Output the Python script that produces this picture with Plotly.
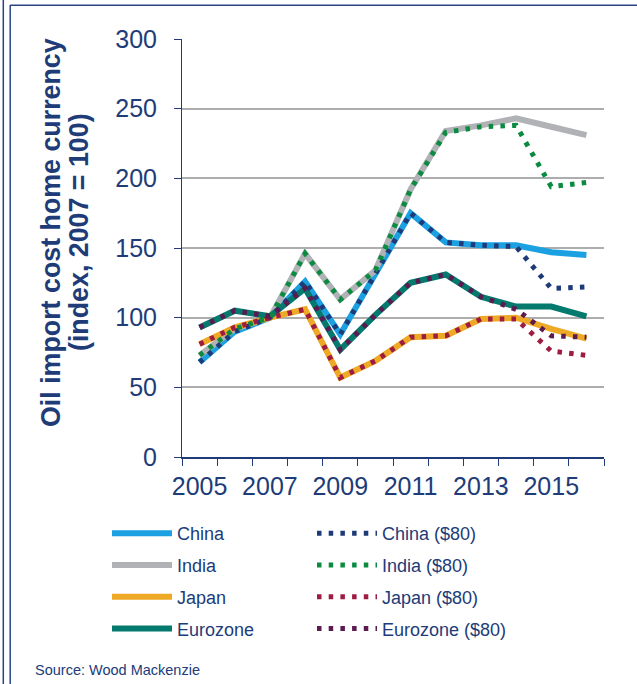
import plotly.graph_objects as go

years = [2005, 2006, 2007, 2008, 2009, 2010, 2011, 2012, 2013, 2014, 2015, 2016]
label_years = [2005, 2007, 2009, 2011, 2013, 2015]

china = [68, 90, 100, 126, 88, 132, 175, 154, 152, 152, 147, 145]
india = [73, 92, 100, 146, 113, 134, 192, 234, 238, 243, 237, 231]
japan = [81, 93, 100, 106, 57, 69, 86, 87, 99, 100, 92, 85]
eurozone = [93, 105, 101, 121, 77, 102, 125, 131, 115, 108, 108, 101]

china_80 = [68, 90, 100, 126, 88, 132, 175, 154, 152, 151, 121, 122]
india_80 = [73, 92, 100, 146, 113, 134, 192, 233, 237, 238, 194, 197]
japan_80 = [81, 93, 100, 106, 57, 69, 86, 87, 99, 99, 76, 73]
eurozone_80 = [93, 105, 101, 121, 77, 102, 125, 131, 115, 106, 87, 86]

NAVY = "#203C78"
FONT = "Liberation Sans, Arial, sans-serif"

solid = [
    ("China", china, "#1BA1E2"),
    ("India", india, "#B1B2B5"),
    ("Japan", japan, "#EEAA26"),
    ("Eurozone", eurozone, "#037A6D"),
]
dotted = [
    ("China ($80)", china_80, "#1F3A78"),
    ("India ($80)", india_80, "#0A8B40"),
    ("Japan ($80)", japan_80, "#9E1B42"),
    ("Eurozone ($80)", eurozone_80, "#5B1A50"),
]

fig = go.Figure()
for i, (name, vals, col) in enumerate(solid):
    fig.add_trace(go.Scatter(x=years, y=vals, name=name, mode="lines",
                             line=dict(color=col, width=6),
                             legend="legend", legendgroup="s%d" % i))
for i, (name, vals, col) in enumerate(dotted):
    fig.add_trace(go.Scatter(x=years, y=vals, name=name, mode="lines",
                             line=dict(color=col, width=5, dash="4.5px,7.2px"),
                             legend="legend2", legendgroup="d%d" % i))

L, R, T, B = 182, 33, 39, 227
W, H = 637, 684
pw, ph = W - L - R, H - T - B

def px(xp):
    return (xp - L) / pw

def py(yp):
    return (H - B - yp) / ph

fig.update_layout(
    width=W, height=H,
    margin=dict(l=L, r=R, t=T, b=B, autoexpand=False),
    paper_bgcolor="white", plot_bgcolor="white",
    font=dict(family=FONT, color=NAVY),
    legend=dict(x=px(107), y=py(515), xanchor="left", yanchor="top",
                font=dict(size=18, color=NAVY), tracegroupgap=5.4,
                itemwidth=60, bgcolor="rgba(0,0,0,0)"),
    legend2=dict(x=px(312), y=py(515), xanchor="left", yanchor="top",
                 font=dict(size=18, color=NAVY), tracegroupgap=5.4,
                 itemwidth=60, bgcolor="rgba(0,0,0,0)"),
    showlegend=True,
)

fig.update_xaxes(
    range=[2004.5, 2016.5],
    tickmode="array", tickvals=label_years, ticktext=[str(y) for y in label_years],
    ticks="", showgrid=False,
    showline=True, linecolor=NAVY, linewidth=1.5,
    tickfont=dict(size=25, color=NAVY, family=FONT),
    ticklabelstandoff=6,
    minor=dict(tickmode="array", tickvals=[y - 0.5 for y in years] + [2016.5],
               ticks="outside", ticklen=7, tickcolor=NAVY, tickwidth=1, showgrid=False),
    zeroline=False,
)
fig.update_yaxes(
    range=[0, 300], dtick=50, tick0=0,
    ticks="outside", ticklen=7, tickcolor=NAVY, tickwidth=1,
    showline=True, linecolor=NAVY, linewidth=1,
    showgrid=True, gridcolor="#ADADAD", gridwidth=1.5,
    zeroline=False,
    tickfont=dict(size=25, color=NAVY, family=FONT),
    ticklabelstandoff=12,
)

# y-axis title as two annotation lines
fig.add_annotation(text="<b>Oil import cost home currency</b>", textangle=-90,
                   xref="paper", yref="paper", x=px(51), y=py(233),
                   xanchor="center", yanchor="middle", showarrow=False,
                   font=dict(size=26.8, color=NAVY, family=FONT))
fig.add_annotation(text="<b>(index, 2007 = 100)</b>", textangle=-90,
                   xref="paper", yref="paper", x=px(79), y=py(232),
                   xanchor="center", yanchor="middle", showarrow=False,
                   font=dict(size=26.8, color=NAVY, family=FONT))
fig.add_annotation(text="Source: Wood Mackenzie",
                   xref="paper", yref="paper", x=px(33), y=py(670),
                   xanchor="left", yanchor="middle", showarrow=False,
                   font=dict(size=14.5, color=NAVY, family=FONT))

# frame decoration
fig.add_shape(type="line", xref="paper", yref="paper", x0=px(3.3), x1=px(3.3), y0=py(0), y1=py(684),
              line=dict(color="#2A4585", width=1.5))
fig.add_shape(type="line", xref="paper", yref="paper", x0=px(10.2), x1=px(10.2), y0=py(5), y1=py(684),
              line=dict(color="#2A4585", width=1.5))
fig.add_shape(type="line", xref="paper", yref="paper", x0=px(10.2), x1=px(637), y0=py(5.2), y1=py(5.2),
              line=dict(color="#2A4585", width=1.5))

fig.write_html("out.html", config={"displayModeBar": False},
               post_script="document.body.style.margin='0px';document.body.style.overflow='hidden';")
